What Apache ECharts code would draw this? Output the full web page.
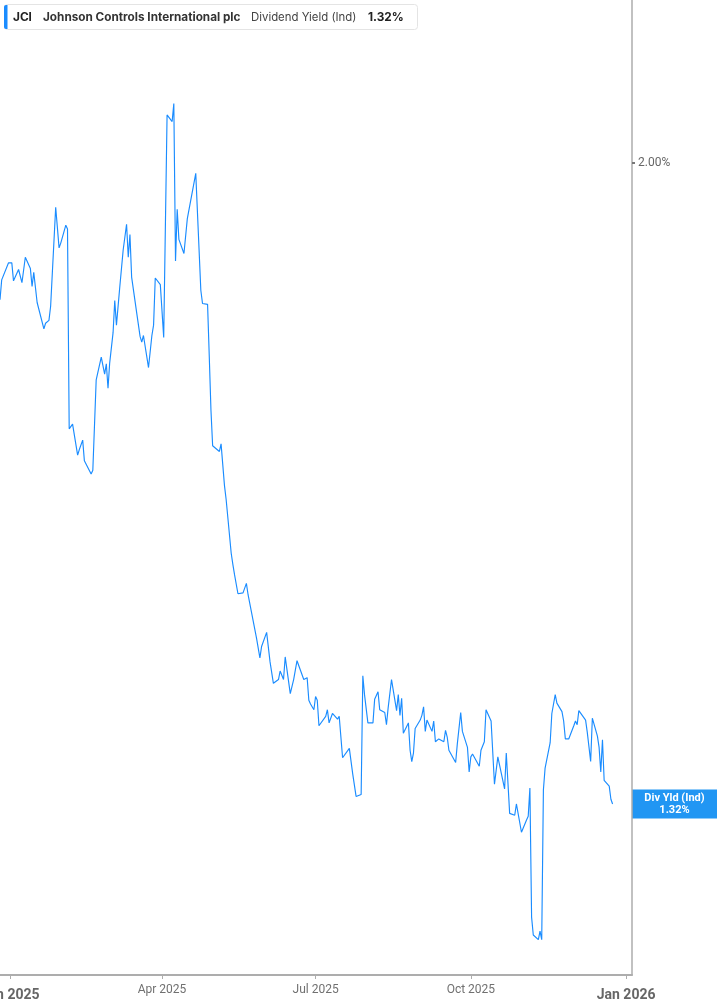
<!DOCTYPE html>
<html>
<head>
<meta charset="utf-8">
<script src="https://cdn.jsdelivr.net/npm/echarts@6/dist/echarts.min.js"></script>
<style>
html,body{margin:0;padding:0;background:#fff;}
#chart{width:717px;height:1005px;}
</style>
</head>
<body>
<div id="chart"></div>
<script>
// ---- data ----
const dates = [
'2024-12-26','2024-12-27','2024-12-31','2025-01-02','2025-01-03','2025-01-06','2025-01-07','2025-01-08','2025-01-10','2025-01-13',
'2025-01-14','2025-01-15','2025-01-17','2025-01-21','2025-01-22','2025-01-24','2025-01-25','2025-01-27','2025-01-28','2025-01-29',
'2025-01-30','2025-01-31','2025-02-03','2025-02-04','2025-02-05','2025-02-07','2025-02-10','2025-02-11','2025-02-13','2025-02-14',
'2025-02-18','2025-02-19','2025-02-21','2025-02-24','2025-02-25','2025-02-26','2025-02-27','2025-02-28','2025-03-01','2025-03-03',
'2025-03-04','2025-03-05','2025-03-07','2025-03-09','2025-03-11','2025-03-12','2025-03-13','2025-03-14','2025-03-17','2025-03-18',
'2025-03-19','2025-03-20','2025-03-21','2025-03-24','2025-03-25','2025-03-26','2025-03-27','2025-03-28','2025-03-31','2025-04-02',
'2025-04-04','2025-04-07','2025-04-08','2025-04-09','2025-04-10','2025-04-11','2025-04-14','2025-04-15','2025-04-16','2025-04-17',
'2025-04-21','2025-04-24','2025-04-25','2025-04-28','2025-04-29','2025-04-30','2025-05-01','2025-05-05','2025-05-06','2025-05-08',
'2025-05-09','2025-05-12','2025-05-13','2025-05-14','2025-05-16','2025-05-19','2025-05-21','2025-05-22','2025-05-23','2025-05-27',
'2025-05-29','2025-05-30','2025-06-02','2025-06-04','2025-06-05','2025-06-06','2025-06-09','2025-06-10','2025-06-12','2025-06-13',
'2025-06-16','2025-06-18','2025-06-20','2025-06-24','2025-06-25','2025-06-26','2025-06-27','2025-06-28','2025-06-30','2025-07-01',
'2025-07-02','2025-07-03','2025-07-07','2025-07-08','2025-07-09','2025-07-11','2025-07-14','2025-07-15','2025-07-17','2025-07-18',
'2025-07-21','2025-07-22','2025-07-23','2025-07-24','2025-07-25','2025-07-28','2025-07-29','2025-07-30','2025-08-01','2025-08-04',
'2025-08-05','2025-08-07','2025-08-08','2025-08-11','2025-08-12','2025-08-13','2025-08-15','2025-08-18','2025-08-19','2025-08-20',
'2025-08-21','2025-08-22','2025-08-25','2025-08-26','2025-08-27','2025-08-28','2025-08-29','2025-09-01','2025-09-02','2025-09-03',
'2025-09-04','2025-09-05','2025-09-08','2025-09-09','2025-09-10','2025-09-11','2025-09-12','2025-09-15','2025-09-16','2025-09-17',
'2025-09-18','2025-09-22','2025-09-23','2025-09-25','2025-09-26','2025-09-29','2025-09-30','2025-10-01','2025-10-02','2025-10-06',
'2025-10-07','2025-10-08','2025-10-09','2025-10-10','2025-10-13','2025-10-15','2025-10-17','2025-10-21','2025-10-22','2025-10-24',
'2025-10-27','2025-10-28','2025-10-31','2025-11-03','2025-11-04','2025-11-05','2025-11-06','2025-11-07','2025-11-08','2025-11-10',
'2025-11-11','2025-11-12','2025-11-13','2025-11-14','2025-11-17','2025-11-18','2025-11-19','2025-11-20','2025-11-21','2025-11-24',
'2025-11-25','2025-11-26','2025-11-28','2025-12-01','2025-12-02','2025-12-03','2025-12-04','2025-12-05','2025-12-08','2025-12-09',
'2025-12-10','2025-12-11','2025-12-12','2025-12-15','2025-12-16','2025-12-17','2025-12-18','2025-12-19','2025-12-22','2025-12-23',
'2025-12-24'
];
const divYield = [
1.855,1.876,1.894,1.894,1.875,1.887,1.889,1.873,1.900,1.888,
1.869,1.884,1.852,1.824,1.830,1.833,1.848,1.918,1.953,1.951,
1.910,1.915,1.934,1.930,1.718,1.723,1.690,1.696,1.706,1.684,
1.670,1.674,1.770,1.794,1.795,1.776,1.787,1.761,1.788,1.820,
1.854,1.828,1.869,1.908,1.935,1.900,1.924,1.879,1.841,1.840,
1.816,1.810,1.817,1.783,1.785,1.817,1.828,1.878,1.871,1.815,
2.051,2.044,2.063,1.896,1.951,1.919,1.904,1.902,1.941,1.939,
1.989,1.865,1.851,1.850,1.795,1.738,1.700,1.694,1.702,1.658,
1.643,1.586,1.574,1.563,1.543,1.544,1.554,1.542,1.541,1.496,
1.475,1.487,1.502,1.471,1.470,1.448,1.452,1.461,1.452,1.476,
1.437,1.452,1.472,1.452,1.452,1.454,1.430,1.426,1.420,1.434,
1.430,1.403,1.413,1.420,1.406,1.416,1.410,1.413,1.369,1.369,
1.379,1.378,1.352,1.353,1.328,1.330,1.456,1.436,1.406,1.406,
1.431,1.439,1.420,1.417,1.404,1.422,1.452,1.419,1.436,1.414,
1.432,1.395,1.406,1.377,1.365,1.374,1.400,1.409,1.414,1.423,
1.397,1.409,1.397,1.408,1.386,1.385,1.389,1.386,1.398,1.391,
1.377,1.364,1.384,1.417,1.397,1.380,1.354,1.370,1.373,1.360,
1.377,1.377,1.386,1.420,1.408,1.341,1.370,1.336,1.374,1.310,
1.308,1.320,1.290,1.303,1.307,1.337,1.200,1.181,1.180,1.176,
1.185,1.176,1.335,1.358,1.385,1.416,1.416,1.436,1.427,1.418,
1.408,1.389,1.389,1.403,1.408,1.404,1.419,1.419,1.409,1.396,
1.396,1.365,1.411,1.392,1.380,1.354,1.388,1.345,1.339,1.325,
1.320
];
const xTickDates = ['2025-01-01','2025-04-01','2025-07-01','2025-10-01','2026-01-01'];
const yTickValues = [2.00];
const ticker = 'JCI';
const companyName = 'Johnson Controls International plc';
const metricName = 'Dividend Yield (Ind)';
const endLabelName = 'Div Yld (Ind)';

// ---- chart ----
const lineColor = '#1a8cff';
const axisColor = '#adadad';
const toTs = s => { const p = s.split('-').map(Number); return new Date(p[0], p[1]-1, p[2]).getTime(); };
const seriesData = dates.map((d, i) => [toTs(d), divYield[i]]);
const lastVal = divYield[divYield.length - 1];
const MONTHS = ['Jan','Feb','Mar','Apr','May','Jun','Jul','Aug','Sep','Oct','Nov','Dec'];
const xMin = toTs('2024-12-26');
const xMax = toTs('2026-01-04') + 12 * 3600 * 1000;

const chart = echarts.init(document.getElementById('chart'), null, {renderer: 'canvas'});

const option = {
  animation: false,
  backgroundColor: '#fff',
  grid: {left: 0, right: 85, top: 0, bottom: 30, containLabel: false, outerBoundsMode: 'none'},
  xAxis: {
    type: 'value',
    min: xMin,
    max: xMax,
    axisLine: {show: true, lineStyle: {color: axisColor, width: 2}},
    axisTick: {show: true, length: 4, lineStyle: {color: axisColor, width: 1}, customValues: xTickDates.map(toTs)},
    splitLine: {show: false},
    axisLabel: {
      customValues: xTickDates.map(toTs),
      margin: 9,
      hideOverlap: false,
      formatter: function (v) {
        const d = new Date(v);
        const s = MONTHS[d.getMonth()] + ' ' + d.getFullYear();
        return d.getMonth() === 0 ? '{b|' + s + '}' : '{n|' + s + '}';
      },
      rich: {
        b: {fontFamily: 'Roboto', fontWeight: 'bold', fontSize: 14, color: '#666', padding: [4, 0, 0, 0]},
        n: {fontFamily: 'Roboto', fontSize: 12, color: '#707070'}
      }
    }
  },
  yAxis: {
    type: 'value',
    position: 'right',
    min: 1.13855,
    max: 2.17293,
    axisLine: {show: true, lineStyle: {color: axisColor, width: 1.5}},
    axisTick: {show: true, length: 3, lineStyle: {color: '#777', width: 2}, customValues: yTickValues},
    splitLine: {show: false},
    axisLabel: {
      customValues: yTickValues,
      margin: 6,
      fontFamily: 'Roboto',
      fontSize: 12,
      color: '#666',
      formatter: v => v.toFixed(2) + '%'
    }
  },
  series: [{
    type: 'line',
    data: seriesData,
    showSymbol: false,
    symbol: 'none',
    lineStyle: {color: lineColor, width: 1.15},
    z: 3
  }]
};
chart.setOption(option);

// graphics: legend box + end label box positioned via axis scale
const yEnd = chart.convertToPixel({yAxisIndex: 0}, lastVal);
const gridRight = chart.convertToPixel({xAxisIndex: 0}, xMax);
const txt = (x, y, text, weight, color, size, align) => ({
  type: 'text', x: x, y: y, silent: true,
  style: {text: text, fontFamily: 'Inter', fontWeight: weight, fontSize: size, fill: color,
          align: align || 'left', verticalAlign: 'middle'}
});
chart.setOption({
  graphic: [
    {type: 'rect', silent: true, shape: {x: 4.5, y: 4.5, width: 413, height: 25, r: 3},
     style: {fill: '#fff', stroke: '#e4e4e4', lineWidth: 1}},
    {type: 'rect', silent: true, shape: {x: 4, y: 5, width: 3.5, height: 24, r: [2, 0, 0, 2]},
     style: {fill: lineColor}},
    txt(13, 17.5, ticker, 'bold', '#222', 11.8),
    txt(43, 17.5, companyName, 'bold', '#333', 11.75),
    txt(251, 17.5, metricName, 'normal', '#444', 11.4),
    txt(368, 17.5, lastVal.toFixed(2) + '%', 'bold', '#222', 11.8),
    {type: 'rect', silent: true, shape: {x: gridRight, y: yEnd - 14.5, width: 717 - gridRight, height: 29},
     style: {fill: '#2196f3'}},
    {type: 'text', silent: true, x: gridRight + (717 - gridRight) / 2, y: yEnd,
     style: {text: endLabelName + '\n' + lastVal.toFixed(2) + '%', fontFamily: 'Roboto', fontWeight: 'bold',
             fontSize: 11, lineHeight: 12, fill: '#fff', align: 'center', verticalAlign: 'middle'}}
  ]
});
</script>
</body>
</html>
